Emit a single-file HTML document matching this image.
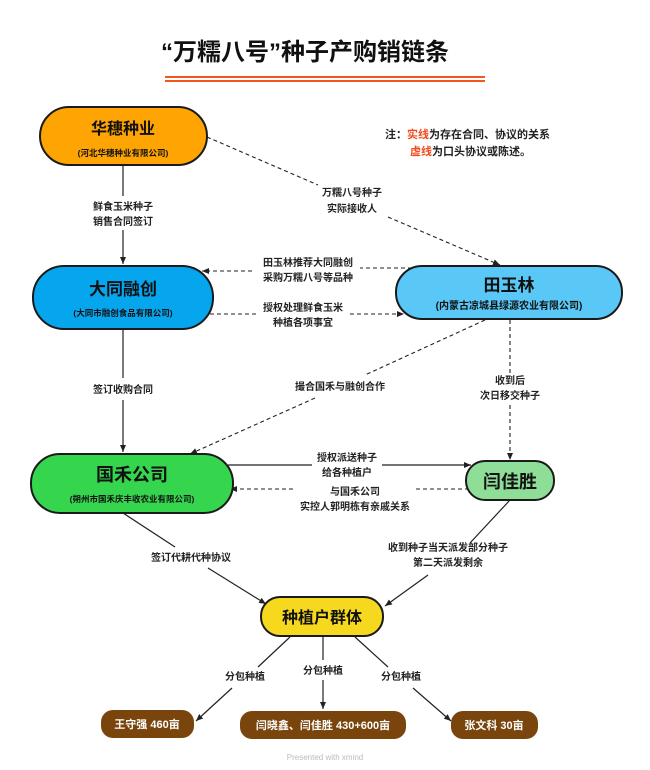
<!DOCTYPE html>
<html><head><meta charset="utf-8"><style>
html,body{margin:0;padding:0;background:#fff;}
svg{display:block;font-family:"Liberation Sans","Noto Sans CJK SC",sans-serif;}
.lb{font-size:10px;fill:#222;font-weight:bold;text-anchor:middle;}
</style></head><body>
<svg width="650" height="770" viewBox="0 0 650 770" xmlns="http://www.w3.org/2000/svg">
<defs>
<marker id="a" markerWidth="8" markerHeight="8" refX="7" refY="4" orient="auto" markerUnits="userSpaceOnUse"><path d="M0,1 L7,4 L0,7 z" fill="#222"/></marker>
</defs>
<text x="305" y="60" font-size="24" font-weight="bold" text-anchor="middle" fill="#111">“万糯八号”种子产购销链条</text>
<line x1="165" y1="77" x2="485" y2="77" stroke="#f0561e" stroke-width="2"/>
<line x1="165" y1="81" x2="485" y2="81" stroke="#f0561e" stroke-width="2"/>

<text x="385" y="138" font-size="11" font-weight="bold" fill="#222">注：<tspan fill="#f04a1e">实线</tspan>为存在合同、协议的关系</text>
<text x="410" y="155" font-size="11" font-weight="bold" fill="#222"><tspan fill="#f04a1e">虚线</tspan>为口头协议或陈述。</text>

<g stroke="#222" stroke-width="1.2" fill="none">
<line x1="123" y1="165" x2="123" y2="196"/><line x1="123" y1="230" x2="123" y2="264" marker-end="url(#a)"/>
<line x1="123" y1="330" x2="123" y2="378"/><line x1="123" y1="400" x2="123" y2="452" marker-end="url(#a)"/>
<line x1="228" y1="465" x2="312" y2="465"/><line x1="382" y1="465" x2="471" y2="465" marker-end="url(#a)"/>
<line x1="123" y1="513" x2="175" y2="547"/><line x1="208" y1="568" x2="266" y2="604" marker-end="url(#a)"/>
<line x1="510" y1="500" x2="470" y2="543"/><line x1="428" y1="575" x2="385" y2="606" marker-end="url(#a)"/>
<line x1="290" y1="637" x2="258" y2="667"/><line x1="232" y1="688" x2="196" y2="721" marker-end="url(#a)"/>
<line x1="323" y1="637" x2="323" y2="660"/><line x1="323" y1="680" x2="323" y2="709" marker-end="url(#a)"/>
<line x1="355" y1="637" x2="388" y2="667"/><line x1="413" y1="688" x2="451" y2="721" marker-end="url(#a)"/>
</g>
<g stroke="#222" stroke-width="1.1" fill="none" stroke-dasharray="4,3">
<line x1="207" y1="137" x2="318" y2="185"/><line x1="388" y1="217" x2="500" y2="265" marker-end="url(#a)"/>
<line x1="412" y1="268" x2="360" y2="268"/><line x1="252" y1="271" x2="202" y2="271" marker-end="url(#a)"/>
<line x1="210" y1="314" x2="258" y2="314"/><line x1="350" y1="314" x2="404" y2="314" marker-end="url(#a)"/>
<line x1="485" y1="320" x2="365" y2="375"/><line x1="315" y1="398" x2="190" y2="454" marker-end="url(#a)"/>
<line x1="510" y1="320" x2="510" y2="375"/><line x1="510" y1="405" x2="510" y2="460" marker-end="url(#a)"/>
<line x1="476" y1="489" x2="415" y2="489"/><line x1="293" y1="489" x2="230" y2="489" marker-end="url(#a)"/>
</g>

<g class="lb">
<text x="123" y="210" class="lb">鲜食玉米种子</text><text x="123" y="225" class="lb">销售合同签订</text>
<text x="352" y="196" class="lb">万糯八号种子</text><text x="352" y="212" class="lb">实际接收人</text>
<text x="308" y="266" class="lb">田玉林推荐大同融创</text><text x="308" y="281" class="lb">采购万糯八号等品种</text>
<text x="303" y="311" class="lb">授权处理鲜食玉米</text><text x="303" y="326" class="lb">种植各项事宜</text>
<text x="123" y="393" class="lb">签订收购合同</text>
<text x="340" y="390" class="lb">撮合国禾与融创合作</text>
<text x="510" y="384" class="lb">收到后</text><text x="510" y="399" class="lb">次日移交种子</text>
<text x="347" y="461" class="lb">授权派送种子</text><text x="347" y="476" class="lb">给各种植户</text>
<text x="355" y="495" class="lb">与国禾公司</text><text x="355" y="510" class="lb">实控人郭明栋有亲戚关系</text>
<text x="191" y="561" class="lb">签订代耕代种协议</text>
<text x="448" y="551" class="lb">收到种子当天派发部分种子</text><text x="448" y="566" class="lb">第二天派发剩余</text>
<text x="245" y="680" class="lb">分包种植</text>
<text x="323" y="674" class="lb">分包种植</text>
<text x="401" y="680" class="lb">分包种植</text>
</g>

<g stroke="#1a1a1a" stroke-width="2">
<rect x="40" y="107" width="167" height="58" rx="29" fill="#ffa503"/>
<rect x="33" y="266" width="180" height="63" rx="31" fill="#06a6ee"/>
<rect x="396" y="266" width="226" height="53" rx="26" fill="#5ac8f6"/>
<rect x="31" y="454" width="202" height="59" rx="29" fill="#35d64e"/>
<rect x="466" y="461" width="88" height="39" rx="19" fill="#8ede98"/>
<rect x="261" y="597" width="122" height="39" rx="19" fill="#f6d91f"/>
</g>
<g fill="#7a450d">
<rect x="101" y="710" width="93" height="28" rx="12"/>
<rect x="240" y="711" width="166" height="28" rx="12"/>
<rect x="451" y="711" width="87" height="28" rx="12"/>
</g>
<g font-weight="bold" text-anchor="middle" fill="#111">
<text x="123" y="134" font-size="16">华穗种业</text>
<text x="123" y="156" font-size="8.5">(河北华穗种业有限公司)</text>
<text x="123" y="295" font-size="17">大同融创</text>
<text x="123" y="316" font-size="8.5">(大同市融创食品有限公司)</text>
<text x="509" y="291" font-size="17">田玉林</text>
<text x="509" y="309" font-size="10">(内蒙古凉城县绿源农业有限公司)</text>
<text x="132" y="481" font-size="18">国禾公司</text>
<text x="132" y="502" font-size="8.5">(朔州市国禾庆丰收农业有限公司)</text>
<text x="510" y="488" font-size="18">闫佳胜</text>
<text x="322" y="623" font-size="16">种植户群体</text>
</g>
<g font-weight="bold" text-anchor="middle" fill="#fff" font-size="11">
<text x="147" y="728">王守强 460亩</text>
<text x="323" y="729">闫晓鑫、闫佳胜 430+600亩</text>
<text x="494" y="729">张文科 30亩</text>
</g>
<text x="325" y="760" font-size="8" fill="#bbb" text-anchor="middle">Presented with xmind</text>
</svg>
</body></html>
